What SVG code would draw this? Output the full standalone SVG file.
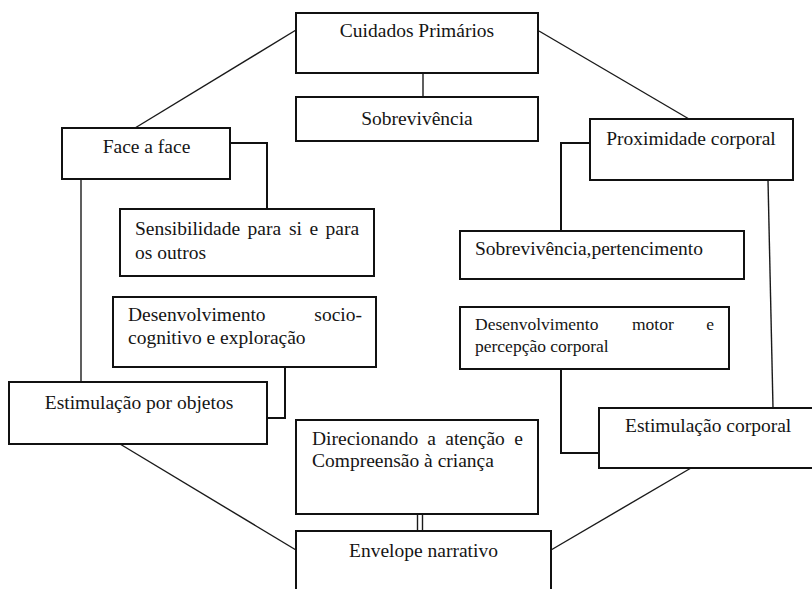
<svg xmlns="http://www.w3.org/2000/svg" width="812" height="589" viewBox="0 0 812 589">
  <style>
    .box { fill: #ffffff; stroke: #111111; stroke-width: 2; }
    .link { fill: none; stroke: #1a1a1a; stroke-width: 1.4; }
    .elbow { fill: none; stroke: #111111; stroke-width: 2; }
    text { font-family: "Liberation Serif", "Times New Roman", serif; font-size: 19.5px; fill: #151515; }
    .small { font-size: 17.5px; }
    .mid { text-anchor: middle; }
    .end { text-anchor: end; }
  </style>
  <rect width="812" height="589" fill="#ffffff"/>

  <!-- connectors -->
  <g id="connectors">
    <line class="link" x1="296" y1="30" x2="135" y2="128"/>
    <line class="link" x1="539" y1="31" x2="689" y2="119"/>
    <line class="link" x1="423" y1="73" x2="423" y2="97"/>
    <polyline class="elbow" points="230,143 267,143 267,209"/>
    <line class="link" x1="81" y1="179" x2="81" y2="382"/>
    <polyline class="elbow" points="285,367 285,418 267,418"/>
    <line class="link" x1="120" y1="444" x2="296" y2="550"/>
    <line class="link" x1="417.5" y1="514" x2="417.5" y2="531"/>
    <line class="link" x1="422.5" y1="514" x2="422.5" y2="531"/>
    <line class="link" x1="551" y1="550" x2="691" y2="468"/>
    <polyline class="elbow" points="590,143 561,143 561,231"/>
    <line class="link" x1="768" y1="180" x2="773" y2="408"/>
    <polyline class="elbow" points="561,369 561,453 599,453"/>
  </g>

  <g id="cuidados-primarios">
    <rect class="box" x="296" y="13" width="242" height="60"/>
    <text class="mid" x="417" y="37">Cuidados Primários</text>
  </g>

  <g id="sobrevivencia">
    <rect class="box" x="296" y="97" width="242" height="44"/>
    <text class="mid" x="417" y="125">Sobrevivência</text>
  </g>

  <g id="face-a-face">
    <rect class="box" x="62" y="128" width="168" height="51"/>
    <text class="mid" x="146.5" y="153">Face a face</text>
  </g>

  <g id="proximidade-corporal">
    <rect class="box" x="590" y="119" width="203" height="61"/>
    <text class="mid" x="691" y="145">Proximidade corporal</text>
  </g>

  <g id="sensibilidade">
    <rect class="box" x="120" y="209" width="254" height="67"/>
    <text y="235"><tspan x="135">Sensibilidade</tspan><tspan x="247.5">para</tspan><tspan x="289">si</tspan><tspan x="309.5">e</tspan><tspan x="325.5">para</tspan></text>
    <text x="135" y="259">os outros</text>
  </g>

  <g id="desenvolvimento-sociocognitivo">
    <rect class="box" x="113" y="297" width="263" height="70"/>
    <text x="128" y="321">Desenvolvimento</text>
    <text class="end" x="362" y="321">socio-</text>
    <text x="128" y="344">cognitivo e exploração</text>
  </g>

  <g id="estimulacao-objetos">
    <rect class="box" x="9" y="382" width="258" height="62"/>
    <text class="mid" x="139" y="409">Estimulação por objetos</text>
  </g>

  <g id="sobrevivencia-pertencimento">
    <rect class="box" x="460" y="231" width="284" height="48"/>
    <text x="475" y="255">Sobrevivência,pertencimento</text>
  </g>

  <g id="desenvolvimento-motor">
    <rect class="box" x="460" y="307" width="269" height="62"/>
    <text class="small" x="475" y="330">Desenvolvimento</text>
    <text class="small" x="632" y="330">motor</text>
    <text class="small end" x="714" y="330">e</text>
    <text class="small" x="475" y="352">percepção corporal</text>
  </g>

  <g id="estimulacao-corporal">
    <rect class="box" x="599" y="408" width="230" height="60"/>
    <text x="625" y="432">Estimulação corporal</text>
  </g>

  <g id="direcionando">
    <rect class="box" x="296" y="420" width="242" height="94"/>
    <text y="445"><tspan x="312">Direcionando</tspan><tspan x="427.3">a</tspan><tspan x="445.3">atenção</tspan><tspan x="514.3">e</tspan></text>
    <text x="312" y="467">Compreensão à criança</text>
  </g>

  <g id="envelope-narrativo">
    <rect class="box" x="296" y="531" width="255" height="80"/>
    <text class="mid" x="423.5" y="557">Envelope narrativo</text>
  </g>
</svg>
